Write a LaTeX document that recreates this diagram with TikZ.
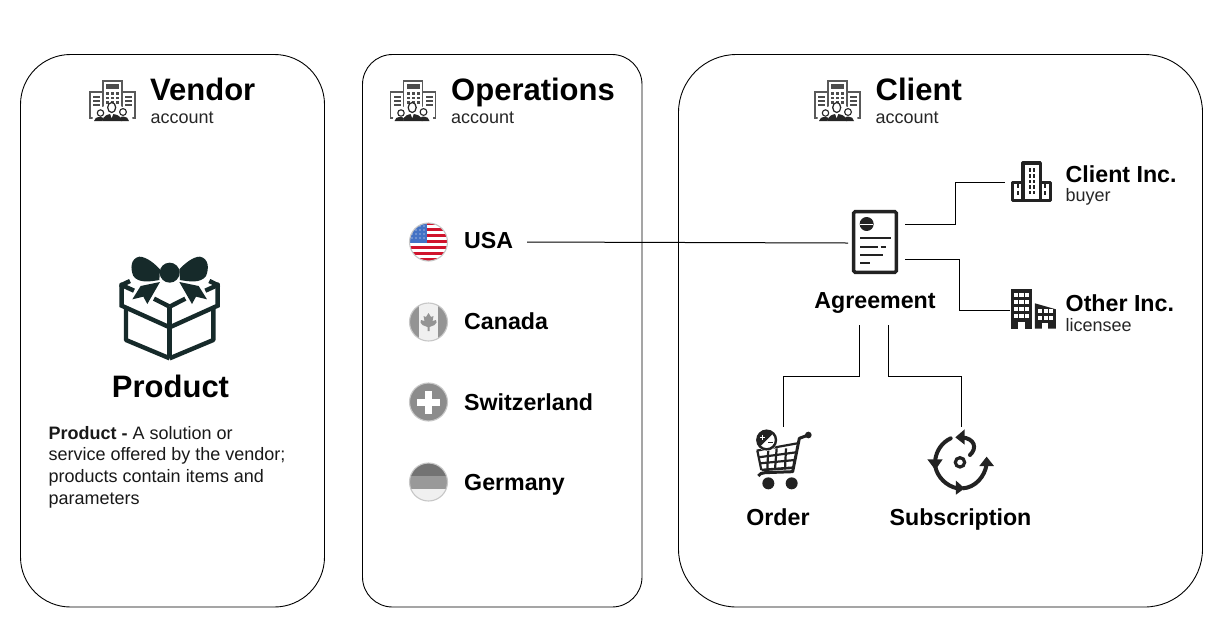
\documentclass[tikz,border=0pt]{standalone}
\usepackage{fontspec}
\setmainfont{Liberation Sans}
\usetikzlibrary{arrows.meta}
\definecolor{giftc}{HTML}{162A2A}
\definecolor{iconc}{HTML}{222222}
\definecolor{usred}{HTML}{D0142C}
\definecolor{usblue}{HTML}{4472C4}
\tikzset{
  panel/.style={draw=black,line width=0.9pt,fill=white},
  title/.style={anchor=base west,inner sep=0pt,font=\fontsize{31}{34}\selectfont\bfseries},
  sub/.style={anchor=base west,inner sep=0pt,font=\fontsize{18}{21}\selectfont,text=black!85},
  label/.style={anchor=base west,inner sep=0pt,font=\fontsize{23.2}{26}\selectfont\bfseries},
  clabel/.style={anchor=base,inner sep=0pt,font=\fontsize{23.2}{26}\selectfont\bfseries},
  wire/.style={draw=black,line width=1pt},
  ring/.style={draw=black!22,line width=1.1pt},
  zoomed/.style={x=0.3333pt,y=-0.3333pt},
  bld/.style={draw=black!65,line width=1.1pt,fill=white}
}
\newcommand{\acct}[2]{%
\begin{scope}[shift={(#1,#2)},x=1pt,y=-1pt]
  \draw[bld] (0,12) rectangle (13,38);
  \draw[bld] (32,12) rectangle (45,38);
  \draw[bld] (13,1) rectangle (32,30);
  \fill[black!70] (16,4) rectangle (29,9);
  \foreach \a in {16,21,26}\foreach \b in {12,16.5,21}{\fill[black!70] (\a,\b) rectangle +(3,2.5);}
  \foreach \b in {16,20,24}{\fill[black!70] (3,\b) rectangle +(7,1.5);\fill[black!70] (35,\b) rectangle +(7,1.5);}
  \fill[white] (22.5,39) ellipse (20 and 14);
  \draw[black!85,fill=white,line width=1.2pt] (21.7,27.5) ellipse (4 and 5);
  \fill[black!85] (12.5,41) .. controls (13,35.5) and (18,34) .. (21.7,34) .. controls (26,34) and (31,35.5) .. (32,41) -- cycle;
  \fill[white] (20.2,34) -- (23.2,34) -- (21.7,38) -- cycle;
  \draw[black!85,fill=white,line width=1.1pt] (10.5,33) circle (3.2);
  \fill[black!85] (4,41) .. controls (4,38) and (7,37) .. (10.5,37) .. controls (12,37) and (13,37.5) .. (13.5,38.5) -- (12.5,41) -- cycle;
  \draw[black!85,fill=white,line width=1.1pt] (33,32) circle (3.4);
  \fill[black!85] (39,41) .. controls (39,38) and (36,36.5) .. (33,36.5) .. controls (31.5,36.5) and (30.5,37) .. (30,38) -- (31,41) -- cycle;
\end{scope}}
\begin{document}
\begin{tikzpicture}[x=1pt,y=-1pt]
\useasboundingbox (0,0) rectangle (1215,625);
\fill[white] (0,0) rectangle (1215,625);
% panels
\draw[panel,rounded corners=50pt] (20.5,54.5) rectangle (324.5,607);
\draw[panel,rounded corners=30pt] (362.5,54.5) rectangle (642,607);
\draw[panel,rounded corners=58pt] (678.5,54.5) rectangle (1202.5,607);
% headers
\acct{90}{80}\acct{390.5}{80}\acct{815}{80}
\node[title] (vendor) at (150,100) {Vendor};
\node[sub] (vendorsub) at (150.5,123) {account};
\node[title] (ops) at (451,100) {Operations};
\node[sub] (opssub) at (451,123) {account};
\node[title] (client) at (875.5,100) {Client};
\node[sub] (clientsub) at (875.5,123) {account};
% gift
\begin{scope}[shift={(100,240)},zoomed,giftc]
  \fill (209,98) circle (30);
  \foreach \m in {1,-1}{
  \begin{scope}[shift={(209,0)},xscale=\m,shift={(-209,0)}]
    \fill (178,120) .. controls (150,125) and (115,130) .. (100,108) .. controls (90,85) and (92,55) .. (118,50) .. controls (140,50) and (165,72) .. (180,88) -- cycle;
    \fill (180,126) -- (122,138) -- (97,178) -- (130,170) -- (142,192) -- cycle;
    \draw[line width=4.4pt,line join=miter,line cap=butt] (90,123) -- (65,135) -- (65,197) -- (209,262);
    \draw[line width=4.4pt,line cap=butt] (60,133) -- (102,152);
    \draw[line width=4.4pt,line join=round] (78,205) -- (78,300) -- (209,355);
    \draw[line width=4.4pt,line cap=butt] (162,176) -- (209,200);
  \end{scope}}
  \draw[line width=4.4pt] (209,200) -- (209,355);
\end{scope}
\node[anchor=base,inner sep=0pt,font=\fontsize{31}{34}\selectfont\bfseries] (product) at (170.5,397) {Product};
\node[anchor=north west,inner sep=0pt,align=left,font=\fontsize{18}{21.6}\selectfont,text=black!90] (desc) at (48.5,426)
  {\textbf{Product -} A solution or\\service offered by the vendor;\\products contain items and\\parameters};
% flags
\begin{scope}
  \clip (428.5,242) circle (19);
  \fill[white] (409,222) rectangle (448,262);
  \foreach \k in {0,2,4,6,8,10,12}{\fill[usred] (409,222.5+\k*2.95) rectangle (448,222.5+\k*2.95+2.95);}
  \fill[usblue] (409,222) rectangle (427,243);
  \foreach \a in {412,416,420,424}\foreach \b in {226,230,234,238}{\fill[white] (\a,\b) circle (0.7);}
\end{scope}
\draw[ring] (428.5,242) circle (19);
\begin{scope}
  \clip (428.5,322) circle (19);
  \fill[black!6] (409,302) rectangle (448,342);
  \fill[black!42] (409,302) rectangle (419,342);
  \fill[black!42] (438,302) rectangle (448,342);
  \fill[black!42] (428.5,313) -- (431,317) -- (433.5,316) -- (432.5,321) -- (436,320) -- (436.5,322.5) -- (434.5,325) -- (429.5,327) -- (429.5,331) -- (427.5,331) -- (427.5,327) -- (422.5,325) -- (420.5,322.5) -- (421,320) -- (424.5,321) -- (423.5,316) -- (426,317) -- cycle;
\end{scope}
\draw[ring] (428.5,322) circle (19);
\fill[black!45] (428.5,402) circle (19);
\fill[white] (425,390.5) rectangle (432,413.5);
\fill[white] (417,399) rectangle (440,405.5);
\draw[ring] (428.5,402) circle (19);
\begin{scope}
  \clip (428.5,482) circle (19);
  \fill[black!55] (409,462) rectangle (448,476);
  \fill[black!40] (409,476) rectangle (448,489);
  \fill[black!6] (409,489) rectangle (448,502);
\end{scope}
\draw[ring] (428.5,482) circle (19);
\node[label] (usa) at (464,248) {USA};
\node[label] (canada) at (464,329) {Canada};
\node[label] (swiss) at (464,410) {Switzerland};
\node[label] (germany) at (464,490) {Germany};
% agreement icon
\begin{scope}[shift={(840,150)},zoomed,iconc]
  \draw[line width=3.4pt,rounded corners=1.5pt,fill=white] (41,185) rectangle (169,367);
  \fill (80,222) circle (21);
  \draw[white,line width=0.6pt] (60,222) -- (100,222);
  \draw[line width=1.9pt] (60,265) -- (153,265);
  \draw[line width=1.9pt] (60,290) -- (115,290) (122,290) -- (137,290);
  \draw[line width=1.9pt] (60,314) -- (128,314);
  \draw[line width=1.9pt] (60,340) -- (90,340);
\end{scope}
\node[clabel] (agreement) at (875,308) {Agreement};
% Client Inc icon
\begin{scope}[shift={(840,150)},zoomed,iconc]
  \draw[line width=3.2pt,line join=round] (549,39) rectangle (601,151);
  \draw[line width=3.2pt,line join=round] (518,97) rectangle (549,151);
  \draw[line width=3.2pt,line join=round] (601,97) rectangle (632,151);
  \foreach \b in {55,72,89,106,122}{\fill (566,\b) rectangle +(6,11);\fill (578,\b) rectangle +(6,11);}
  \foreach \b in {103,122}{\fill (531,\b) rectangle +(6,12);\fill (612,\b) rectangle +(6,12);}
\end{scope}
% Other Inc icon
\begin{scope}[shift={(840,150)},zoomed,iconc]
  \fill (513,418) rectangle (577,536);
  \fill (585,536) -- (585,460) -- (648,478) -- (648,536) -- cycle;
  \foreach \b in {428,449,470,491}\foreach \a in {521,538,555}{\fill[white] (\a,\b) rectangle +(13,13);}
  \foreach \a in {594,611,628}{\fill[white] (\a,478) rectangle +(12,12);\fill[white] (\a,498) rectangle +(12,12);}
  \fill[white] (535,517) rectangle (555,536);
  \fill[white] (607,520) rectangle (625,536);
\end{scope}
\node[label] (cinc) at (1065.5,182) {Client Inc.};
\node[sub] (buyer) at (1065.5,201) {buyer};
\node[label] (oinc) at (1065.5,311) {Other Inc.};
\node[sub] (licensee) at (1065.5,331) {licensee};
% cart
\begin{scope}[shift={(740,420)},zoomed,iconc]
  \fill (205,45) circle (10);
  \draw[line width=3pt,line join=round] (205,45) -- (178,55) -- (158,155) -- (75,158) .. controls (65,158) and (58,162) .. (55,168);
  \draw[line width=2.2pt] (50,92) -- (172,70);
  \draw[line width=2.2pt] (55,112) -- (168,97);
  \draw[line width=2.2pt] (60,130) -- (165,120);
  \draw[line width=2.6pt] (65,150) -- (160,143);
  \draw[line width=2.2pt] (52,92) -- (64,150);
  \foreach \a/\b in {85/82,110/105,138/135}{\draw[line width=2.2pt] (\a,85) -- (\b,148);}
  \fill[white] (80,60) circle (33);
  \begin{scope}
    \clip (80,60) circle (28);
    \fill (58,82) -- (102,38) -- (102,20) -- (40,20) -- (40,82) -- cycle;
  \end{scope}
  \draw[line width=2.4pt] (80,60) circle (28);
  \draw[white,line width=1pt] (60,52) -- (76,52) (68,44) -- (68,60);
  \draw[line width=1.1pt] (84,68) -- (98,68);
  \fill (85,190) circle (18);
  \fill (155,190) circle (18);
\end{scope}
% subscription
\begin{scope}[shift={(740,420)},zoomed,iconc]
  \draw[line width=3.2pt] (660,127) circle (14);
  \draw[line width=4pt,line cap=round] (632,55) .. controls (605,68) and (590,92) .. (586,118);
  \fill (562,118) -- (608,118) -- (586,150) -- cycle;
  \draw[line width=4pt] (586,140) .. controls (592,170) and (618,198) .. (652,205);
  \fill (648,182) -- (674,205) -- (648,224) -- cycle;
  \draw[line width=4pt] (668,205) .. controls (705,203) and (735,170) .. (740,132);
  \fill (740,110) -- (762,138) -- (718,138) -- cycle;
  \draw[line width=4pt,line cap=round] (690,105) .. controls (712,85) and (705,55) .. (665,52);
  \fill (646,52) -- (674,28) -- (674,74) -- cycle;
\end{scope}
\node[clabel] (order) at (778,525) {Order};
\node[clabel] (subscr) at (960.5,525) {Subscription};
% connector ends
\coordinate (usaend) at (527,242);
\coordinate (agrL) at (848,243);
\coordinate (agrT) at (905,224.5);
\coordinate (agrB) at (905,259);
\coordinate (agrD1) at (859.5,325);
\coordinate (agrD2) at (888.5,325);
\coordinate (cincIn) at (1005,182.5);
\coordinate (oincIn) at (1010,310);
\coordinate (orderIn) at (783,427);
\coordinate (subIn) at (961.5,427);
\draw[wire] (usaend) -- (agrL);
\draw[wire] (agrT) -| (955.5,182.5) -- (cincIn);
\draw[wire] (agrB) -| (959,310) -- (oincIn);
\draw[wire] (agrD1) |- (783,376) -- (orderIn);
\draw[wire] (agrD2) |- (961.5,376) -- (subIn);
\end{tikzpicture}
\end{document}
